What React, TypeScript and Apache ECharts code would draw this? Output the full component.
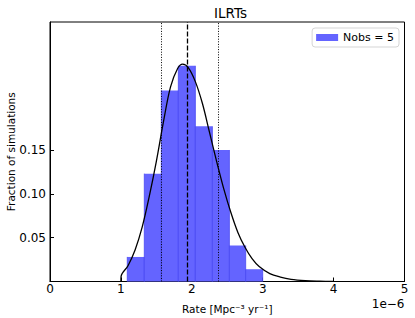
import React, { useEffect, useRef } from "react";
import * as echarts from "echarts";

// Histogram of simulated rates (units of 1e-6 Mpc^-3 yr^-1)
const binEdges = [1.09, 1.33, 1.57, 1.81, 2.05, 2.29, 2.53, 2.76, 3.0];
const binFractions = [0.028, 0.123, 0.218, 0.246, 0.177, 0.15, 0.041, 0.014];

// Fitted density curve
const curveX = [1.0, 1.003, 1.1, 1.2, 1.3, 1.4, 1.5, 1.6, 1.7, 1.8, 1.87, 1.95, 2.05, 2.15, 2.25, 2.35, 2.45, 2.55, 2.65, 2.75, 2.85, 2.95, 3.1, 3.25, 3.4, 3.6, 3.8, 4.0];
const curveY = [0.0, 0.006, 0.018, 0.036, 0.062, 0.097, 0.137, 0.182, 0.222, 0.243, 0.248, 0.244, 0.228, 0.203, 0.17, 0.137, 0.106, 0.079, 0.056, 0.039, 0.026, 0.017, 0.009, 0.005, 0.0025, 0.001, 0.0004, 0.0001];

// Percentile markers
const lowerPercentile = 1.575;
const medianRate = 1.94;
const upperPercentile = 2.365;

const xTicks = [0, 1, 2, 3, 4, 5];
const yTicks = [0.05, 0.1, 0.15];

const titleText = "ILRTs";
const legendLabel = "Nobs = 5";
const xLabel = "Rate [Mpc⁻³ yr⁻¹]";
const yLabel = "Fraction of simulations";
const offsetText = "1e−6";

const FONT = "DejaVu Sans";

export default function App() {
  const ref = useRef<HTMLDivElement | null>(null);

  useEffect(() => {
    if (!ref.current) return;
    const chart = echarts.init(ref.current, undefined, { renderer: "svg" });
    const barColor = "#6464ff";

    const option: any = {
      animation: false,
      textStyle: { fontFamily: FONT, color: "#000" },
      title: {
        text: titleText,
        left: 209,
        top: 1,
        textStyle: { fontFamily: FONT, fontSize: 13.5, fontWeight: "normal", color: "#000" },
      },
      legend: {
        data: [{ name: legendLabel, icon: "rect" }],
        right: 16,
        top: 28,
        itemWidth: 22,
        itemHeight: 7,
        padding: [4, 5, 4, 4],
        borderColor: "#d5d5d5",
        borderWidth: 1,
        borderRadius: 3,
        backgroundColor: "rgba(255,255,255,0.8)",
        textStyle: { fontFamily: FONT, fontSize: 11, color: "#000" },
      },
      grid: {
        left: 50,
        right: 10.5,
        top: 22,
        bottom: 36.5,
        containLabel: false,
        outerBoundsMode: "none",
        show: true,
        borderColor: "#000",
        borderWidth: 1,
        backgroundColor: "transparent",
      },
      xAxis: {
        type: "value",
        min: xTicks[0],
        max: xTicks[xTicks.length - 1],
        interval: 1,
        splitLine: { show: false },
        axisLine: { lineStyle: { color: "#000", width: 1 } },
        axisTick: { inside: true, length: 4, lineStyle: { color: "#000" } },
        axisLabel: { color: "#000", fontSize: 12, margin: 1.5, fontFamily: FONT },
        name: xLabel,
        nameLocation: "middle",
        nameGap: 22,
        nameMoveOverlap: false,
        nameTextStyle: { fontSize: 10.5, color: "#000", fontFamily: FONT },
      },
      yAxis: {
        type: "value",
        min: 0,
        max: 0.296,
        splitLine: { show: false },
        axisLine: { show: true, lineStyle: { color: "#000", width: 1 } },
        axisTick: { show: true, inside: true, length: 4, customValues: yTicks, lineStyle: { color: "#000" } },
        axisLabel: {
          color: "#000",
          fontSize: 12,
          margin: 4,
          fontFamily: FONT,
          customValues: yTicks,
          formatter: (v: number) => v.toFixed(2),
        },
        name: yLabel,
        nameLocation: "middle",
        nameGap: 33.5,
        nameMoveOverlap: false,
        nameTextStyle: { fontSize: 10.5, color: "#000", fontFamily: FONT },
      },
      series: [
        {
          type: "custom",
          name: legendLabel,
          itemStyle: { color: barColor },
          encode: { x: [0, 1], y: 2 },
          data: binFractions.map((f, i) => [binEdges[i], binEdges[i + 1], f]),
          renderItem: (params: any, api: any) => {
            const p0 = api.coord([api.value(0), api.value(2)]);
            const p1 = api.coord([api.value(1), 0]);
            const color = api.visual("color");
            return {
              type: "group",
              children: [
                {
                  type: "rect",
                  shape: { x: p0[0], y: p0[1], width: p1[0] - p0[0], height: p1[1] - p0[1] },
                  style: { fill: color },
                },
                {
                  type: "line",
                  shape: { x1: p0[0], y1: p0[1], x2: p0[0], y2: p1[1] },
                  style: { stroke: "#4848f2", lineWidth: 0.8 },
                },
                {
                  type: "line",
                  shape: { x1: p1[0], y1: p0[1], x2: p1[0], y2: p1[1] },
                  style: { stroke: "#4848f2", lineWidth: 0.8 },
                },
              ],
            };
          },
        },
        {
          type: "line",
          name: "fit",
          data: curveX.map((x, i) => [x, curveY[i]]),
          smooth: 0.35,
          showSymbol: false,
          symbol: "none",
          z: 5,
          lineStyle: { color: "#000", width: 1.3 },
          markLine: {
            silent: true,
            symbol: ["none", "none"],
            label: { show: false },
            data: [
              { xAxis: lowerPercentile, lineStyle: { color: "#000", width: 1, type: [1, 1.6] } },
              { xAxis: medianRate, lineStyle: { color: "#000", width: 1.3, type: [5, 2] } },
              { xAxis: upperPercentile, lineStyle: { color: "#000", width: 1, type: [1, 1.6] } },
            ],
          },
        },
      ],
      graphic: [
        {
          type: "text",
          right: 10.5,
          top: 298,
          style: { text: offsetText, fontSize: 12, fontFamily: FONT, fill: "#000" },
        },
      ],
    };

    chart.setOption(option);
    return () => chart.dispose();
  }, []);

  return (
    <div
      ref={ref}
      style={{ position: "fixed", left: 0, top: 0, width: 415, height: 318, background: "#fff" }}
    />
  );
}
